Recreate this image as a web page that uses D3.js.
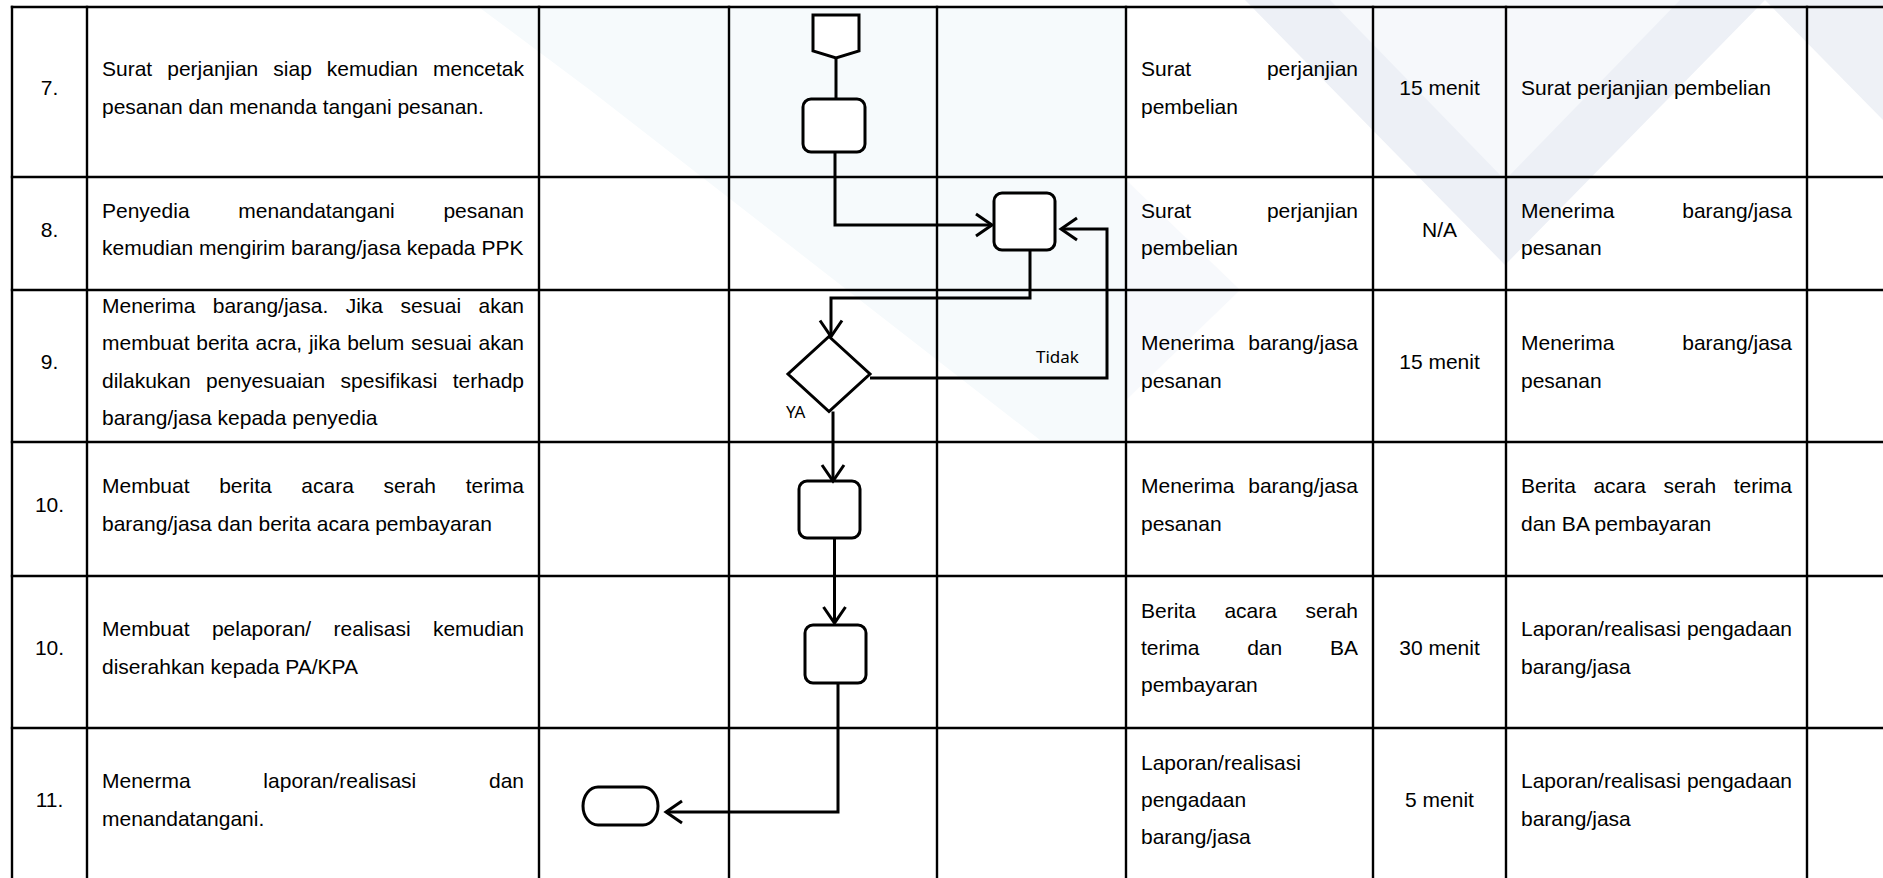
<!DOCTYPE html>
<html><head><meta charset="utf-8">
<script src="https://cdn.jsdelivr.net/npm/d3@7"></script>
<style>html,body{margin:0;padding:0;background:#fff;overflow:hidden}</style>
</head><body><svg id="c" width="1883" height="878"></svg>
<script>
// ---------------- data ----------------
const steps = ["7.", "8.", "9.", "10.", "10.", "11."];
const descriptions = [
  ["Surat perjanjian siap kemudian mencetak", "pesanan dan menanda tangani pesanan."],
  ["Penyedia menandatangani pesanan", "kemudian mengirim barang/jasa kepada PPK"],
  ["Menerima barang/jasa. Jika sesuai akan", "membuat berita acra, jika belum sesuai akan", "dilakukan penyesuaian spesifikasi terhadp", "barang/jasa kepada penyedia"],
  ["Membuat berita acara serah terima", "barang/jasa dan berita acara pembayaran"],
  ["Membuat pelaporan/ realisasi kemudian", "diserahkan kepada PA/KPA"],
  ["Menerma laporan/realisasi dan", "menandatangani."]
];
const inputs = [
  ["Surat perjanjian", "pembelian"],
  ["Surat perjanjian", "pembelian"],
  ["Menerima barang/jasa", "pesanan"],
  ["Menerima barang/jasa", "pesanan"],
  ["Berita acara serah", "terima dan BA", "pembayaran"],
  ["Laporan/realisasi", "pengadaan", "barang/jasa"]
];
const durations = ["15 menit", "N/A", "15 menit", "", "30 menit", "5 menit"];
const outputs = [
  ["Surat perjanjian pembelian"],
  ["Menerima barang/jasa", "pesanan"],
  ["Menerima barang/jasa", "pesanan"],
  ["Berita acara serah terima", "dan BA pembayaran"],
  ["Laporan/realisasi pengadaan", "barang/jasa"],
  ["Laporan/realisasi pengadaan", "barang/jasa"]
];
const columns = ["no", "uraian", "laneA", "laneB", "laneC", "input", "waktu", "output", "ket"];
const flowNodes = [
  {id: "conn", step: 0, lane: "laneB", type: "connector"},
  {id: "b1", step: 0, lane: "laneB", type: "process"},
  {id: "b2", step: 1, lane: "laneC", type: "process"},
  {id: "d1", step: 2, lane: "laneB", type: "decision"},
  {id: "b3", step: 3, lane: "laneB", type: "process"},
  {id: "b4", step: 4, lane: "laneB", type: "process"},
  {id: "end", step: 5, lane: "laneA", type: "terminator"}
];
const decisionLabels = ["Tidak", "YA"];

// ---------------- layout ----------------
const W = 1883, H = 878;
const colEdges = [12, 87, 539, 729, 937, 1126, 1373, 1506, 1807, 1900];
const rowEdges = [7, 177, 290, 442, 576, 728, 880];
const xL = d3.scaleOrdinal(columns, colEdges.slice(0, -1));
const xR = d3.scaleOrdinal(columns, colEdges.slice(1));
const stepIdx = d3.range(steps.length);
const yT = d3.scaleOrdinal(stepIdx, rowEdges.slice(0, -1));
const yB = d3.scaleOrdinal(stepIdx, rowEdges.slice(1));
const xC = c => (xL(c) + xR(c)) / 2;
const yC = i => (yT(i) + yB(i)) / 2;

const FONT = "'Liberation Sans', Arial, sans-serif";
const FS = 21, LH = 37.3, PAD = 15;

const svg = d3.select("#c");
svg.append("rect").attr("width", W).attr("height", H).attr("fill", "#fff");

// faint watermark background
const bg = svg.append("g");
[
  {p: [[1245, 0], [1505, 265], [1765, 0]], f: "#edf0f6"},
  {p: [[1330, 0], [1505, 180], [1680, 0]], f: "#f6f8fb"},
  {p: [[1765, 0], [1883, 120], [1883, 0]], f: "#eef1f6"},
  {p: [[480, 8], [1126, 8], [1126, 440], [1040, 440], [590, 90]], f: "#f6fafc"},
  {p: [[1126, 180], [1240, 290], [1126, 400]], f: "#f7f9fc"}
].forEach(s => bg.append("polygon").attr("points", s.p.map(q => q.join(",")).join(" ")).attr("fill", s.f));

// ---------------- table grid ----------------
const grid = svg.append("g").attr("stroke", "#000").attr("stroke-width", 2.4).attr("fill", "none");
colEdges.slice(0, -1).forEach(x => grid.append("line").attr("x1", x).attr("x2", x).attr("y1", rowEdges[0] - 1.2).attr("y2", H + 5));
rowEdges.forEach(y => grid.append("line").attr("x1", colEdges[0] - 1.2).attr("x2", W + 5).attr("y1", y).attr("y2", y));

// ---------------- text cells ----------------
const meas = svg.append("text").attr("font-family", FONT).attr("font-size", FS).attr("visibility", "hidden");
const tw = s => { meas.text(s); return meas.node().getComputedTextLength(); };
const tg = svg.append("g").attr("font-family", FONT).attr("font-size", FS).attr("fill", "#000");

function baseline(i, k, n) { return yC(i) - 4 + (k - (n - 1) / 2) * LH + 7; }

function drawLines(lines, col, i, justify) {
  const x0 = xL(col) + PAD, x1 = xR(col) - PAD, n = lines.length;
  lines.forEach((ln, k) => {
    const y = baseline(i, k, n);
    const words = ln.split(/\s+/);
    if (justify && k < n - 1 && words.length > 1) {
      const ws = words.map(tw);
      const gap = (x1 - x0 - d3.sum(ws)) / (words.length - 1);
      let x = x0;
      const t = tg.append("text").attr("y", y);
      words.forEach((w, j) => { t.append("tspan").attr("x", x).attr("y", y).text(w); x += ws[j] + gap; });
    } else {
      tg.append("text").attr("x", x0).attr("y", y).text(ln);
    }
  });
}

stepIdx.forEach(i => {
  tg.append("text").attr("x", xC("no")).attr("y", baseline(i, 0, 1)).attr("text-anchor", "middle").text(steps[i]);
  drawLines(descriptions[i], "uraian", i, true);
  drawLines(inputs[i], "input", i, true);
  if (durations[i]) tg.append("text").attr("x", xC("waktu")).attr("y", baseline(i, 0, 1)).attr("text-anchor", "middle").text(durations[i]);
  drawLines(outputs[i], "output", i, true);
});

// ---------------- flowchart ----------------
// node geometry: offsets from lane/row centre and sizes
const geom = {
  conn: {dx: 3, dy: -55.5, w: 46, h: 43},
  b1: {dx: 1, dy: 33.5, w: 62, h: 53},
  b2: {dx: -7, dy: -12, w: 61, h: 57},
  d1: {dx: -4, dy: 8, w: 82, h: 75},
  b3: {dx: -3.5, dy: 0.5, w: 61, h: 57},
  b4: {dx: 2.5, dy: 2, w: 61, h: 58},
  end: {dx: -13.5, dy: 2, w: 75, h: 38}
};
const N = {};
flowNodes.forEach(d => {
  const g = geom[d.id];
  const cx = xC(d.lane) + g.dx, cy = yC(d.step) + g.dy;
  N[d.id] = Object.assign({}, d, {cx, cy, w: g.w, h: g.h,
    left: cx - g.w / 2, right: cx + g.w / 2, top: cy - g.h / 2, bottom: cy + g.h / 2});
});

const fg = svg.append("g").attr("stroke", "#000").attr("stroke-width", 3).attr("fill", "none")
  .attr("stroke-linejoin", "miter");

flowNodes.forEach(d => {
  const n = N[d.id];
  if (d.type === "process") {
    fg.append("rect").attr("x", n.left).attr("y", n.top).attr("width", n.w).attr("height", n.h)
      .attr("rx", 8).attr("fill", "#fff");
  } else if (d.type === "terminator") {
    fg.append("rect").attr("x", n.left).attr("y", n.top).attr("width", n.w).attr("height", n.h)
      .attr("rx", 15).attr("ry", n.h / 2).attr("fill", "#fff");
  } else if (d.type === "decision") {
    fg.append("polygon").attr("points", [[n.cx, n.top], [n.right, n.cy], [n.cx, n.bottom], [n.left, n.cy]].map(p => p.join(",")).join(" "))
      .attr("fill", "#fff");
  } else if (d.type === "connector") {
    const sideBottom = n.bottom - 7;
    fg.append("polygon").attr("points", [[n.left, n.top], [n.right, n.top], [n.right, sideBottom], [n.cx, n.bottom], [n.left, sideBottom]].map(p => p.join(",")).join(" "))
      .attr("fill", "#fff");
  }
});

const {conn, b1, b2, d1, b3, b4, end} = N;
const edges = [
  {pts: [[conn.cx, conn.bottom], [conn.cx, b1.top]], arrow: false},
  {pts: [[b1.cx + 1, b1.bottom], [b1.cx + 1, b2.cy + 3.5], [b2.left - 2, b2.cy + 3.5]], arrow: true},
  {pts: [[b2.cx + 5.5, b2.bottom], [b2.cx + 5.5, yT(2) + 8], [d1.cx + 2, yT(2) + 8], [d1.cx + 2, d1.top]], arrow: true},
  {pts: [[d1.right, d1.cy + 4], [xR("laneC") - 19, d1.cy + 4], [xR("laneC") - 19, b2.cy + 7.5], [b2.right + 6, b2.cy + 7.5]], arrow: true},
  {pts: [[d1.cx + 4, d1.bottom], [d1.cx + 4, b3.top]], arrow: true},
  {pts: [[b3.cx + 5, b3.bottom], [b3.cx + 5, b4.top - 2]], arrow: true},
  {pts: [[b4.cx + 2.5, b4.bottom], [b4.cx + 2.5, end.cy + 6], [end.right + 8, end.cy + 6]], arrow: true}
];
const line = d3.line();
edges.forEach(e => {
  fg.append("path").attr("d", line(e.pts));
  if (e.arrow) {
    const p1 = e.pts[e.pts.length - 1], p0 = e.pts[e.pts.length - 2];
    const L = Math.hypot(p1[0] - p0[0], p1[1] - p0[1]);
    const dx = (p1[0] - p0[0]) / L, dy = (p1[1] - p0[1]) / L;
    const nx = -dy, ny = dx, len = 16, hw = 11;
    fg.append("path").attr("d", line([
      [p1[0] - len * dx + hw * nx, p1[1] - len * dy + hw * ny],
      p1,
      [p1[0] - len * dx - hw * nx, p1[1] - len * dy - hw * ny]
    ]));
  }
});

// decision labels
const lg = svg.append("g").attr("font-family", "'Noto Sans', 'Open Sans', sans-serif").attr("font-size", 17).attr("fill", "#000");
lg.append("text").attr("x", xL("laneC") + 99).attr("y", d1.cy - 11).text(decisionLabels[0]);
lg.append("text").attr("x", d1.left - 2).attr("y", d1.bottom + 6).text(decisionLabels[1]);
</script>
</body></html>
